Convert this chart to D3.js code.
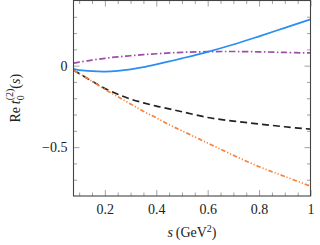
<!DOCTYPE html>
<html>
<head>
<meta charset="utf-8">
<script src="https://cdn.jsdelivr.net/npm/d3@7"></script>
<style>
  body { margin: 0; background: #fff; }
  svg { display: block; }
</style>
</head>
<body>
<div id="app"></div>
<script>
// s values (GeV^2) sampled along the curves
const sGrid   = [0.078, 0.1, 0.15, 0.2, 0.25, 0.3, 0.35, 0.4, 0.45, 0.5, 0.6, 0.7, 0.8, 0.9, 1.0];
const solid   = [-0.02, -0.027, -0.034, -0.036, -0.032, -0.023, -0.009, 0.008, 0.026, 0.045, 0.085, 0.13, 0.18, 0.232, 0.284];
const dashDot = [0.016, 0.022, 0.034, 0.045, 0.054, 0.061, 0.068, 0.073, 0.078, 0.082, 0.086, 0.087, 0.085, 0.081, 0.078];
const dashed  = [-0.03, -0.048, -0.095, -0.14, -0.175, -0.205, -0.228, -0.248, -0.265, -0.283, -0.318, -0.34, -0.358, -0.375, -0.39];
const dashDotDot = [-0.03, -0.048, -0.095, -0.145, -0.19, -0.235, -0.28, -0.32, -0.362, -0.40, -0.475, -0.55, -0.62, -0.68, -0.74];

const xMajor = [0.2, 0.4, 0.6, 0.8, 1];
const xMinor = [0.1, 0.15, 0.25, 0.3, 0.35, 0.45, 0.5, 0.55, 0.65, 0.7, 0.75, 0.85, 0.9, 0.95];
const yMajor = [-0.5, 0];
const yMinor = [-0.7, -0.6, -0.4, -0.3, -0.2, -0.1, 0.1, 0.2, 0.3];

const width = 320, height = 245;
const box = { left: 73.5, right: 310.5, top: 0.5, bottom: 196 };
const serif = "'Liberation Serif', 'DejaVu Serif', serif";
const fontSize = 14;

const svg = d3.select('#app').append('svg')
  .attr('width', width)
  .attr('height', height)
  .style('font-family', serif);

const x = d3.scaleLinear().domain([0.078, 1]).range([box.left, box.right]);
const y = d3.scaleLinear().domain([-0.8, 0.4]).range([box.bottom, box.top]);

const fmt = d => d === 0 ? '0' : d3.format('.1f')(d).replace('-', '\u2212');

// helper: style an axis group the way pgfplots draws it
const tidy = g => {
  g.select('.domain').remove();
  g.selectAll('line').attr('stroke', '#8a8a8a').attr('stroke-width', 0.8);
  g.selectAll('text')
    .attr('font-family', serif)
    .attr('font-size', fontSize)
    .attr('fill', '#222');
  g.attr('font-family', serif).attr('font-size', fontSize);
};

// minor ticks, inside on all four sides
svg.append('g').attr('transform', `translate(0,${box.bottom})`)
  .call(d3.axisTop(x).tickValues(xMinor).tickSizeInner(3.5).tickSizeOuter(0).tickFormat(''))
  .call(tidy);
svg.append('g').attr('transform', `translate(0,${box.top})`)
  .call(d3.axisBottom(x).tickValues(xMinor).tickSizeInner(3.5).tickSizeOuter(0).tickFormat(''))
  .call(tidy);
svg.append('g').attr('transform', `translate(${box.left},0)`)
  .call(d3.axisRight(y).tickValues(yMinor).tickSizeInner(3.5).tickSizeOuter(0).tickFormat(''))
  .call(tidy);
svg.append('g').attr('transform', `translate(${box.right},0)`)
  .call(d3.axisLeft(y).tickValues(yMinor).tickSizeInner(3.5).tickSizeOuter(0).tickFormat(''))
  .call(tidy);

// major ticks + labels
const bottomAxis = svg.append('g').attr('transform', `translate(0,${box.bottom})`)
  .call(d3.axisTop(x).tickValues(xMajor).tickSizeInner(6).tickSizeOuter(0).tickFormat(d3.format('')))
  .call(tidy);
bottomAxis.selectAll('text').attr('y', 8).attr('dy', '0.71em');

svg.append('g').attr('transform', `translate(0,${box.top})`)
  .call(d3.axisBottom(x).tickValues(xMajor).tickSizeInner(6).tickSizeOuter(0).tickFormat(''))
  .call(tidy);

const leftAxis = svg.append('g').attr('transform', `translate(${box.left},0)`)
  .call(d3.axisRight(y).tickValues(yMajor).tickSizeInner(6).tickSizeOuter(0).tickFormat(fmt))
  .call(tidy);
leftAxis.selectAll('text').attr('x', -6).attr('text-anchor', 'end');

svg.append('g').attr('transform', `translate(${box.right},0)`)
  .call(d3.axisLeft(y).tickValues(yMajor).tickSizeInner(6).tickSizeOuter(0).tickFormat(''))
  .call(tidy);

// curves
const series = [
  { values: dashed,     color: '#222222', dash: '7,4' },
  { values: dashDotDot, color: '#f7833a', dash: '4.5,2,1.2,2,1.2,2' },
  { values: dashDot,    color: '#9c4fa6', dash: '6.5,2.5,1.5,2.5' },
  { values: solid,      color: '#2a8df5', dash: null }
];

const line = d3.line().curve(d3.curveCatmullRom.alpha(0.5));

svg.append('g').selectAll('path')
  .data(series)
  .enter().append('path')
  .attr('d', s => line(sGrid.map((v, i) => [x(v), y(s.values[i])])))
  .attr('fill', 'none')
  .attr('stroke', s => s.color)
  .attr('stroke-width', 1.7)
  .attr('stroke-dasharray', s => s.dash);

// frame
svg.append('rect')
  .attr('x', box.left).attr('y', box.top)
  .attr('width', box.right - box.left).attr('height', box.bottom - box.top)
  .attr('fill', 'none').attr('stroke', '#444').attr('stroke-width', 1.1);

// axis titles
const xt = svg.append('text')
  .attr('x', (box.left + box.right) / 2).attr('y', 237)
  .attr('text-anchor', 'middle').attr('font-size', fontSize).attr('fill', '#222');
xt.append('tspan').attr('font-style', 'italic').text('s');
xt.append('tspan').text('\u2009(GeV');
xt.append('tspan').attr('font-size', 10).attr('dy', -5).text('2');
xt.append('tspan').attr('dy', 5).text(')');

const yt = svg.append('text')
  .attr('transform', `translate(20,${(box.top + box.bottom) / 2}) rotate(-90)`)
  .attr('text-anchor', 'middle').attr('font-size', fontSize).attr('fill', '#222');
yt.append('tspan').text('Re\u2009');
yt.append('tspan').attr('font-style', 'italic').text('t');
yt.append('tspan').attr('font-size', 10).attr('dy', 4).text('0');
yt.append('tspan').attr('font-size', 10).attr('dx', -5).attr('dy', -11).text('(2)');
yt.append('tspan').attr('dy', 7).text('(');
yt.append('tspan').attr('font-style', 'italic').text('s');
yt.append('tspan').text(')');
</script>
</body>
</html>
